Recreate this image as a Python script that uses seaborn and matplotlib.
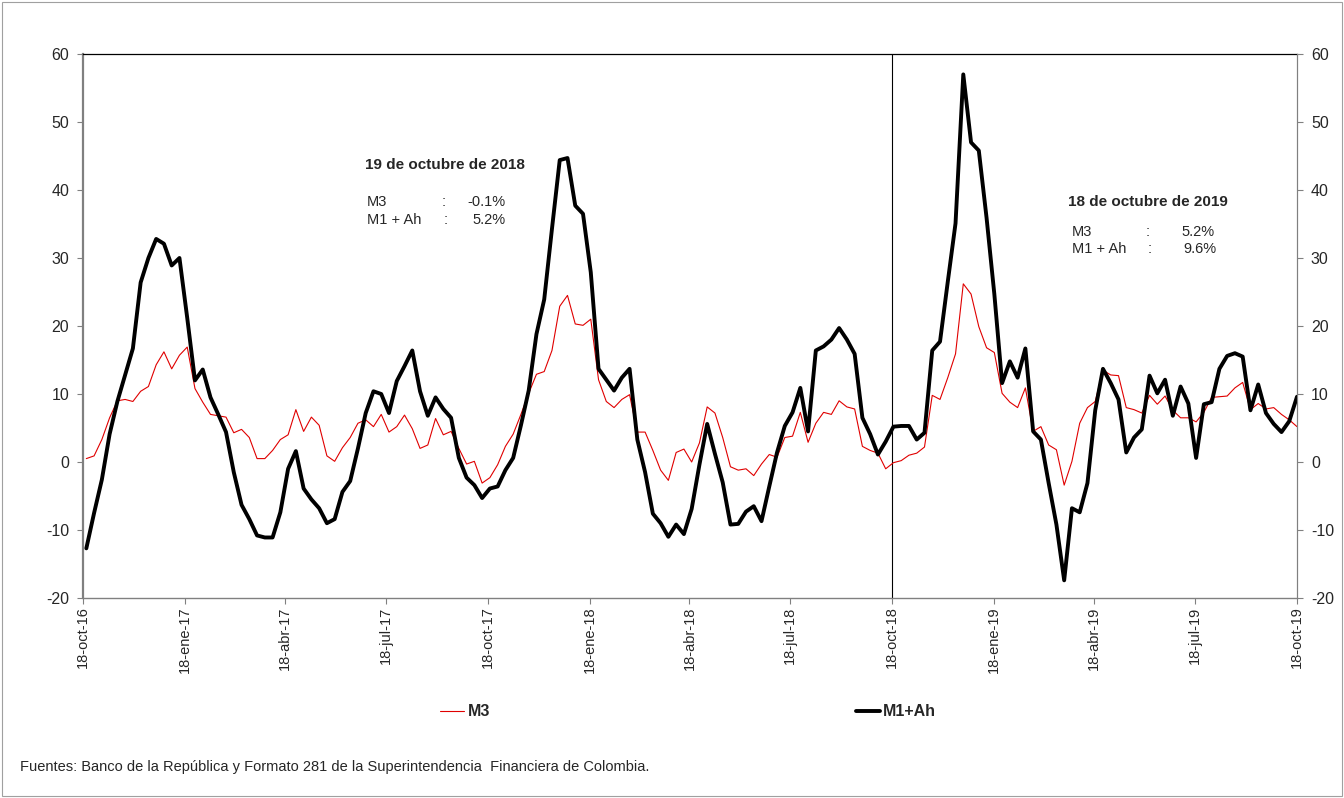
import matplotlib
matplotlib.use('Agg')
import matplotlib.pyplot as plt
from matplotlib.patches import Rectangle
import seaborn as sns
import pandas as pd

# Variación anual (%) semanal - M3 y M1+Ah
M3 = [
    0.5, 0.9, 3.3, 6.5, 9.0, 9.2, 8.9, 10.4, 11.1, 14.3,
    16.2, 13.7, 15.7, 16.9, 10.8, 8.8, 7.0, 6.8, 6.6, 4.3,
    4.8, 3.6, 0.5, 0.5, 1.7, 3.3, 4.0, 7.7, 4.5, 6.6,
    5.4, 0.9, 0.1, 2.1, 3.6, 5.7, 6.2, 5.2, 7.0, 4.4,
    5.2, 6.9, 4.9, 2.0, 2.5, 6.4, 4.0, 4.5, 2.0, -0.3,
    0.1, -3.1, -2.3, -0.4, 2.3, 4.1, 7.0, 10.1, 12.9, 13.3,
    16.4, 22.9, 24.5, 20.3, 20.1, 21.0, 12.1, 8.9, 8.0, 9.2,
    9.9, 4.4, 4.4, 1.7, -1.2, -2.7, 1.4, 1.9, 0.0, 2.8,
    8.1, 7.2, 3.6, -0.7, -1.2, -1.0, -2.0, -0.3, 1.1, 0.7,
    3.6, 3.8, 7.3, 2.9, 5.7, 7.3, 7.0, 9.0, 8.1, 7.8,
    2.3, 1.7, 1.3, -1.0, -0.1, 0.2, 1.0, 1.3, 2.2, 9.8,
    9.2, 12.4, 15.9, 26.2, 24.7, 19.9, 16.8, 16.1, 10.1, 8.8,
    8.0, 10.9, 4.5, 5.2, 2.5, 1.8, -3.4, 0.1, 5.7, 8.0,
    8.9, 13.5, 12.8, 12.7, 8.0, 7.7, 7.2, 9.8, 8.5, 9.7,
    7.6, 6.5, 6.5, 5.9, 7.3, 9.5, 9.6, 9.7, 10.9, 11.7,
    7.7, 8.6, 7.8, 8.0, 7.0, 6.2, 5.2,
]

M1_AH = [
    -12.7, -7.5, -2.6, 4.1, 8.9, 12.8, 16.7, 26.4, 30.0, 32.8,
    32.1, 28.9, 30.0, 21.2, 12.0, 13.6, 9.5, 7.0, 4.4, -1.5,
    -6.3, -8.4, -10.8, -11.1, -11.1, -7.4, -1.0, 1.6, -3.9, -5.5,
    -6.8, -9.0, -8.4, -4.4, -2.8, 2.0, 7.2, 10.4, 10.0, 7.2,
    11.9, 14.1, 16.4, 10.4, 6.8, 9.5, 7.8, 6.5, 0.6, -2.3,
    -3.4, -5.3, -3.9, -3.6, -1.2, 0.6, 5.4, 10.5, 18.8, 23.9,
    34.3, 44.4, 44.7, 37.7, 36.5, 27.9, 13.7, 12.1, 10.5, 12.4,
    13.7, 3.3, -1.5, -7.6, -9.0, -11.0, -9.2, -10.6, -6.9, -0.4,
    5.6, 1.2, -3.0, -9.2, -9.1, -7.3, -6.5, -8.7, -3.6, 1.4,
    5.3, 7.3, 10.9, 4.5, 16.4, 17.0, 18.0, 19.7, 18.0, 15.9,
    6.5, 4.1, 1.1, 3.0, 5.2, 5.3, 5.3, 3.3, 4.3, 16.4,
    17.7, 26.5, 35.1, 57.0, 47.0, 45.8, 35.9, 24.7, 11.6, 14.8,
    12.4, 16.7, 4.5, 3.3, -3.1, -9.2, -17.4, -6.8, -7.4, -3.1,
    7.6, 13.7, 11.6, 9.2, 1.4, 3.6, 4.8, 12.7, 10.1, 12.1,
    6.8, 11.1, 8.6, 0.6, 8.5, 8.8, 13.7, 15.6, 16.0, 15.5,
    7.6, 11.4, 7.2, 5.6, 4.4, 6.0, 9.6,
]

FECHAS = pd.date_range(end='2019-10-18', periods=len(M3), freq='7D')

TICK_FECHAS = ['2016-10-18', '2017-01-18', '2017-04-18', '2017-07-18',
               '2017-10-18', '2018-01-18', '2018-04-18', '2018-07-18',
               '2018-10-18', '2019-01-18', '2019-04-18', '2019-07-18',
               '2019-10-18']
TICK_LABELS = ['18-oct-16', '18-ene-17', '18-abr-17', '18-jul-17',
               '18-oct-17', '18-ene-18', '18-abr-18', '18-jul-18',
               '18-oct-18', '18-ene-19', '18-abr-19', '18-jul-19',
               '18-oct-19']

df = pd.DataFrame({'fecha': FECHAS, 'M3': M3, 'M1+Ah': M1_AH})

sns.set_style('white')
plt.rcParams['font.family'] = ['Liberation Sans', 'DejaVu Sans']
plt.rcParams['axes.unicode_minus'] = False

W, H = 1344, 798
fig = plt.figure(figsize=(W / 100, H / 100), dpi=100)
ax = fig.add_axes([83 / W, 1 - 598 / H, (1297 - 83) / W, (598 - 54) / H])

sns.lineplot(data=df, x='fecha', y='M3', ax=ax, color='#e00000',
             linewidth=0.8, label='M3', legend=False, zorder=3)
sns.lineplot(data=df, x='fecha', y='M1+Ah', ax=ax, color='black',
             linewidth=2.8, label='M1+Ah', legend=False, zorder=4)

ax.axvline(pd.Timestamp('2018-10-18'), color='black', lw=0.8, zorder=2)

ax.set_xlim(pd.Timestamp(TICK_FECHAS[0]), pd.Timestamp(TICK_FECHAS[-1]))
ax.set_ylim(-20, 60)
ax.set_yticks(range(-20, 61, 10))
ax.set_xticks(pd.to_datetime(TICK_FECHAS))
ax.set_xticklabels(TICK_LABELS, rotation=90)
ax.set_xlabel('')
ax.set_ylabel('')

ax.tick_params(axis='y', labelsize=11.5, length=4, width=0.8,
               color='#808080', pad=6, left=True)
ax.tick_params(axis='x', labelsize=10.5, length=4, width=0.8,
               color='#808080', pad=2, bottom=True)

for lado in ['left', 'bottom', 'right']:
    ax.spines[lado].set_color('#808080')
ax.spines['left'].set_linewidth(1.6)
ax.spines['bottom'].set_linewidth(1.0)
ax.spines['right'].set_linewidth(0.8)
ax.spines['top'].set_color('black')
ax.spines['top'].set_linewidth(0.9)

ax2 = ax.twinx()
ax2.set_ylim(-20, 60)
ax2.set_yticks(range(-20, 61, 10))
ax2.tick_params(axis='y', labelsize=11.5, length=4, width=0.8,
                color='#808080', pad=6, right=True)
for lado in ['left', 'bottom', 'top']:
    ax2.spines[lado].set_visible(False)
ax2.spines['right'].set_color('#808080')
ax2.spines['right'].set_linewidth(0.8)

# Cajas de texto
def fx(x):
    return x / W

def fy(y):
    return 1 - y / H

fig.text(fx(365), fy(165), '19 de octubre de 2018', fontsize=11,
         fontweight='bold', va='center', ha='left')
fig.text(fx(367), fy(202), 'M3', fontsize=10.5, va='center')
fig.text(fx(442), fy(202), ':', fontsize=10.5, va='center')
fig.text(fx(506), fy(202), '-0.1%', fontsize=10.5, va='center', ha='right')
fig.text(fx(367), fy(220), 'M1 + Ah', fontsize=10.5, va='center')
fig.text(fx(444), fy(220), ':', fontsize=10.5, va='center')
fig.text(fx(506), fy(220), '5.2%', fontsize=10.5, va='center', ha='right')

fig.text(fx(1068), fy(202), '18 de octubre de 2019', fontsize=11,
         fontweight='bold', va='center', ha='left')
fig.text(fx(1072), fy(232), 'M3', fontsize=10.5, va='center')
fig.text(fx(1146), fy(232), ':', fontsize=10.5, va='center')
fig.text(fx(1215), fy(232), '5.2%', fontsize=10.5, va='center', ha='right')
fig.text(fx(1072), fy(249), 'M1 + Ah', fontsize=10.5, va='center')
fig.text(fx(1148), fy(249), ':', fontsize=10.5, va='center')
fig.text(fx(1217), fy(249), '9.6%', fontsize=10.5, va='center', ha='right')

lineas = ax.get_lines()[:2]
fig.legend(handles=lineas, labels=['M3', 'M1+Ah'], ncol=2,
           loc='center', bbox_to_anchor=(fx(688), fy(712)),
           frameon=False, handlelength=1.5, handletextpad=0.2,
           columnspacing=22.9, prop={'weight': 'bold', 'size': 11.5})

fig.text(fx(20), fy(767),
         'Fuentes: Banco de la República y Formato 281 de la Superintendencia  Financiera de Colombia.',
         fontsize=10.5, va='center', ha='left')

fig.patches.append(Rectangle((0.0015, 0.0025), 0.997, 0.995,
                             transform=fig.transFigure, fill=False,
                             edgecolor='#a0a0a0', linewidth=0.8))

fig.savefig('out.png', dpi=100)
plt.close(fig)
